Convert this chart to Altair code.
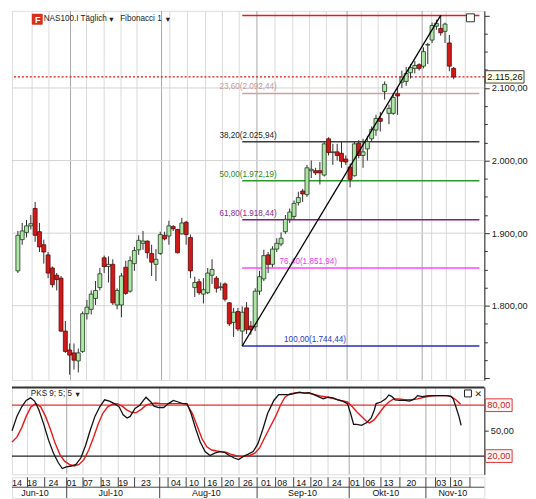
import altair as alt
import pandas as pd

FONT = "Liberation Sans"

# ---------------- daily candles (NAS100.I) ----------------
opens = [1848,1891,1901,1910,1934,1902,1884,1870,1852,1842,1838,1765,1739,1735,1724,1737,1789,1795,1810,1825,
         1866,1854,1857,1801,1801,1853,1820,1858,1877,1886,1889,1872,1857,1872,1897,1896,1909,1905,1899,1915,
         1894,1825,1833,1816,1818,1842,1838,1825,1830,1804,1777,1792,1765,1797,1772,1771,1820,1837,1870,1857,
         1878,1885,1902,1919,1923,1942,1958,1953,1986,1986,1986,1980,2030,2011,2012,2010,2002,1991,1979,2024,
         2007,2016,2030,2042,2058,2095,2065,2065,2092,2108,2109,2121,2127,2132,2130,2159,2166,2185,2182,2178,
         2162,2127]
highs = [1903,1914,1918,1925,1943,1914,1891,1874,1854,1845,1841,1779,1748,1748,1741,1792,1808,1821,1834,1852,
         1869,1868,1864,1824,1845,1862,1868,1881,1897,1903,1890,1884,1878,1902,1902,1917,1911,1906,1921,1917,
         1898,1840,1837,1838,1852,1864,1841,1832,1832,1805,1797,1797,1799,1805,1779,1824,1848,1877,1874,1882,
         1893,1901,1925,1934,1945,1957,1961,1994,2000,1990,1998,2026,2032,2023,2023,2026,2007,1996,2026,2028,
         2030,2034,2047,2063,2067,2109,2077,2093,2100,2124,2129,2133,2137,2134,2156,2162,2190,2194,2199.94,2190,
         2173,2129]
lows = [1845,1884,1894,1905,1888,1874,1858,1838,1825,1821,1764,1735,1705,1712,1708,1735,1781,1788,1801,1821,
        1845,1832,1801,1795,1784,1815,1818,1848,1870,1877,1865,1841,1834,1870,1890,1884,1903,1872,1898,1884,
        1838,1812,1815,1803,1816,1830,1818,1821,1806,1772,1757,1765,1744.44,1761,1760,1765,1815,1834,1845,1853,
        1874,1882,1899,1914,1919,1938,1943,1950,1976,1980,1967,1978,2007,1994,2000,1990,1994,1963,1978,2003,
        1990,2000,2026,2034,2040,2084,2050,2063,2063,2100,2103,2113,2120,2124,2127,2133,2162,2180,2172,2162,
        2123,2112]
closes = [1897,1903,1910,1913,1897,1881,1874,1845,1829,1836,1765,1737,1732,1725,1735,1789,1798,1816,1821,1844,
          1854,1857,1804,1821,1841,1817,1862,1876,1890,1889,1873,1860,1864,1898,1892,1910,1906,1873,1914,1898,
          1848,1832,1818,1822,1845,1850,1824,1826,1809,1775,1791,1768,1791,1767,1767,1820,1840,1869,1857,1878,
          1886,1893,1919,1929,1941,1949,1954,1990,1988,1983,1983,2023,2011,2012,2007,1999,1998,1974,2023,2007,
          2012,2026,2043,2058,2054,2105,2072,2087,2089,2115,2120,2128,2131,2127,2150,2160,2186,2189,2176,2188,
          2130,2115.26]

# ---------------- slow stochastic PKS 9;5;5 ----------------
k_pos = [-0.2,0.9,2.0,3.0,4.0,4.9,5.9,7.0,8.1,9.2,10.3,11.2,12.1,13.2,14.3,15.4,16.5,17.5,18.6,19.7,
         20.8,21.9,23.0,24.1,25.0,25.9,26.6,27.7,28.8,29.6,30.2,31.3,32.0,33.1,34.2,35.3,36.4,37.5,38.5,39.5,
         40.4,41.5,42.5,43.6,44.7,45.8,46.9,48.0,49.1,50.2,51.2,52.3,53.4,54.5,55.6,56.7,57.8,58.5,59.2,60.3,
         61.7,62.8,63.9,65.0,66.1,67.2,68.3,69.3,70.4,71.5,72.6,73.7,74.8,75.9,76.6,77.3,78.0,79.1,80.2,81.3,
         82.0,82.4,83.5,84.6,85.3,86.0,86.7,87.8,88.9,90.0,91.1,91.8,92.9,94.0,95.1,96.2,97.2,98.3,99.4,99.9,
         100.5,101.2,101.7]
k_val = [49.8,66.8,78.1,85.6,88.7,84.9,74.3,57.4,38.5,23.4,12.1,5.3,7.2,8.3,10.2,17.7,32.8,49.8,66.8,78.1,
         86.4,84.9,81.9,78.1,68.7,64.9,66.8,76.2,80.0,85.6,89.4,83.8,78.9,77.3,77.3,81.9,85.6,83.8,81.9,81.9,
         70.5,51.7,36.6,25.3,20.7,23.4,25.3,24.5,20.7,17.7,15.8,19.6,22.3,25.3,34.7,51.7,70.5,78.0,85.6,92.4,
         92.4,92.4,94.0,95.5,94.3,94.7,92.4,90.2,87.5,89.4,88.7,86.4,84.9,81.9,70.5,57.3,57.3,56.2,59.2,64.9,
         74.3,81.9,83.8,87.5,92.1,90.2,86.4,85.6,85.6,84.9,87.5,91.3,90.2,90.9,91.3,91.3,91.3,91.3,90.5,87.5,
         78.1,66.8,56.2]
d_pos = [-0.2,0.9,2.0,3.0,4.1,5.2,6.3,7.4,8.5,9.6,10.7,11.7,12.8,13.9,15.0,16.1,17.2,18.3,19.3,20.4,
         21.5,22.6,23.7,24.8,25.9,27.0,28.0,29.1,30.2,31.3,32.4,33.5,34.6,35.7,36.7,37.8,38.9,39.6,40.7,41.8,
         42.9,44.0,45.1,46.2,47.2,48.3,49.4,50.5,51.6,52.7,53.8,54.9,55.9,57.0,58.1,59.6,60.7,61.7,62.8,64.3,
         65.7,67.2,68.6,70.1,71.5,73.0,74.4,75.9,77.0,78.0,79.1,80.2,80.9,82.0,83.1,84.2,85.3,86.4,87.5,88.9,
         90.4,91.8,93.3,94.7,96.2,97.6,98.7,99.4,100.5,101.6]
d_val = [36.6,42.3,53.6,66.8,78.1,81.9,78.1,66.8,51.7,34.7,21.5,14.0,10.2,8.3,10.2,15.8,27.2,42.3,57.3,70.5,
         78.1,81.1,81.9,78.9,74.3,71.3,71.3,75.1,80.0,81.9,82.6,81.9,81.9,81.9,81.9,81.9,81.9,80.0,70.5,55.5,
         40.4,30.9,27.2,26.0,25.3,24.5,22.3,20.7,19.6,19.6,20.7,23.4,29.0,40.4,51.7,66.8,80.0,89.4,93.2,94.7,
         94.7,94.0,92.4,90.5,89.4,87.5,85.6,83.8,78.1,72.4,66.8,61.1,59.2,63.0,70.5,78.1,83.8,87.5,87.5,86.4,
         86.4,87.5,89.4,90.9,91.3,91.3,91.3,90.2,86.4,81.1]

# ---------------- Fibonacci retracement ----------------
fib_pct = [0.0, 23.6, 38.2, 50.0, 61.8, 76.4, 100.0]
fib_price = [2199.94, 2092.44, 2025.94, 1972.19, 1918.44, 1851.94, 1744.44]
fib_line_color = ["#e31c1c", "#c9a2a2", "#3c3c3c", "#2b9a2b", "#7e1f7e", "#ff47ff", "#2a2ac6"]
fib_text_color = ["#e31c1c", "#c49a9a", "#1e1e1e", "#2b8a2b", "#8a2a8a", "#ee3cee", "#2a3ac0"]
fib_label_pos = [None, 60.0, 60.0, 60.0, 60.0, 60.65, 61.7]
fib_label_align = [None, "right", "right", "right", "right", "left", "left"]
swing_low_i, swing_high_i = 52, 98
last_price = 2115.26

# ---------------- date axis ----------------
day_sep_pos = [3.3, 7.2, 12.2, 15.9, 20.0, 23.9, 27.6, 33.3, 35.2, 39.3, 43.5, 47.4, 51.3, 55.4,
               59.6, 63.7, 67.6, 71.5, 76.3, 79.6, 83.5, 87.8, 93.7, 95.9, 99.3, 103.7]
month_sep_pos = [12.2, 33.3, 55.4, 76.3, 93.7]
day_lbl = ["14", "18", "24", "01", "07", "13", "19", "23", "04", "10", "16", "20", "26",
           "01", "08", "14", "20", "24", "01", "06", "13", "20", "03", "10"]
day_lbl_pos = [0.9, 4.3, 9.2, 13.3, 17.0, 21.0, 25.0, 30.2, 37.0, 41.1, 45.2, 49.1, 53.3,
               57.4, 61.1, 65.4, 69.1, 73.5, 77.6, 81.1, 85.2, 90.4, 97.2, 100.9]
month_lbl = ["Jun-10", "Jul-10", "Aug-10", "Sep-10", "Okt-10", "Nov-10"]
month_lbl_pos = [5.0, 22.2, 43.9, 65.7, 84.6, 99.8]


def de(v):
    s = f"{v:,.2f}"
    return s.replace(",", "#").replace(".", ",").replace("#", ".")


W, PH, IH, DH = 476, 372, 88, 21
XMIN, XMAX = -0.22, 106.96
xs = alt.Scale(domain=[XMIN, XMAX], nice=False, zero=False)
ys = alt.Scale(domain=[1697.6, 2206.2], nice=False, zero=False)
DEX = "replace(replace(replace(format(datum.value, ',.2f'), ',', '#'), '.', ','), '#', '.')"
AXF = 9.3
HF = 8.2

yax = alt.Axis(orient="right", values=list(range(1700, 2201, 25)),
               labelExpr=f"(datum.value % 100 === 0 && datum.value >= 1800 && datum.value <= 2100) ? {DEX} : ''",
               tickSize={"condition": {"test": "datum.value % 100 === 0", "value": 5}, "value": 3},
               tickColor="#333", domainColor="#222", labelColor="#222", labelFont=FONT,
               labelFontSize=AXF, labelPadding=2, labelOverlap=False, grid=False, title=None)


def X(f):
    return alt.X(f, scale=xs, axis=None, title=None)


def Y(f):
    return alt.Y(f, scale=ys, axis=yax, title=None)


N = len(opens)
cd = pd.DataFrame({"i": list(range(N)), "o": opens, "h": highs, "l": lows, "c": closes})
cd["b0"] = cd[["o", "c"]].min(axis=1)
cd["b1"] = cd[["o", "c"]].max(axis=1)
up = cd[cd.c >= cd.o]
dn = cd[cd.c < cd.o]

sep_day = pd.DataFrame({"pos": [p for p in day_sep_pos if p not in month_sep_pos]})
sep_month = pd.DataFrame({"pos": month_sep_pos})

fib = pd.DataFrame({
    "x0": [swing_low_i] * len(fib_pct), "x1": [XMAX] * len(fib_pct),
    "price": fib_price, "col": fib_line_color, "tcol": fib_text_color,
    "lx": fib_label_pos, "align": fib_label_align,
    "label": [f"{p:.2f}".replace(".", ",") + "(" + de(v) + ")" for p, v in zip(fib_pct, fib_price)],
})
fib_lab = fib[fib["lx"].notna()]

vgrid_d = alt.Chart(sep_day).mark_rule(color="#dadada", strokeWidth=1).encode(x=X("pos:Q"))
vgrid_m = alt.Chart(sep_month).mark_rule(color="#a8a8a8", strokeWidth=1).encode(x=X("pos:Q"))
hgrid = alt.Chart(pd.DataFrame({"p": [1800, 1900, 2000, 2100]})).mark_rule(
    color="#d4d4d4", strokeWidth=1).encode(y=Y("p:Q"))

fib_rules = alt.Chart(fib).mark_rule(strokeWidth=1.5).encode(
    x=X("x0:Q"), x2="x1:Q", y=Y("price:Q"), color=alt.Color("col:N", scale=None))
fib_r = alt.Chart(fib_lab[fib_lab["align"] == "right"]).mark_text(
    align="right", baseline="bottom", dy=-2, font=FONT, fontSize=8.2).encode(
    x=X("lx:Q"), y=Y("price:Q"), text="label:N", color=alt.Color("tcol:N", scale=None))
fib_l = alt.Chart(fib_lab[fib_lab["align"] == "left"]).mark_text(
    align="left", baseline="bottom", dy=-2, font=FONT, fontSize=8.2).encode(
    x=X("lx:Q"), y=Y("price:Q"), text="label:N", color=alt.Color("tcol:N", scale=None))

diag = alt.Chart(pd.DataFrame({"i": [swing_low_i, swing_high_i],
                               "p": [fib_price[-1], fib_price[0]]})).mark_line(
    color="#000000", strokeWidth=1.3).encode(x=X("i:Q"), y=Y("p:Q"))

lastdf = pd.DataFrame({"p": [last_price], "lab": [de(last_price)]})
last_rule = alt.Chart(lastdf).mark_rule(color="#e01010", strokeDash=[2, 2], strokeWidth=1.3).encode(y=Y("p:Q"))

wicks = alt.Chart(cd).mark_rule(color="#2e2e2e", strokeWidth=1).encode(x=X("i:Q"), y=Y("l:Q"), y2="h:Q")
b_up = alt.Chart(up).mark_bar(size=4, fill="#aee6a6", stroke="#203a20", strokeWidth=0.8).encode(
    x=X("i:Q"), y=Y("b0:Q"), y2="b1:Q")
b_dn = alt.Chart(dn).mark_bar(size=4, fill="#d01a1a", stroke="#5c0a0a", strokeWidth=0.8).encode(
    x=X("i:Q"), y=Y("b0:Q"), y2="b1:Q")

last_box = alt.Chart(lastdf).transform_calculate(a="datum.p + 8.5", b="datum.p - 8.5").mark_rect(
    fill="#ffffea", stroke="#444", strokeWidth=1).encode(
    x=alt.value(W + 1), x2=alt.value(W + 40), y=Y("a:Q"), y2="b:Q")
last_txt = alt.Chart(lastdf).mark_text(align="left", baseline="middle", font=FONT, fontSize=AXF,
                                       color="#111").encode(x=alt.value(W + 3), y=Y("p:Q"), text="lab:N")

hdr = pd.DataFrame({"t": [0]})
icon = alt.Chart(hdr).mark_rect(fill="#d5301f", cornerRadius=1).encode(
    x=alt.value(20), x2=alt.value(31), y=alt.value(3), y2=alt.value(14))
icon_t = alt.Chart(hdr).mark_text(text="F", color="white", font=FONT, fontSize=9, fontWeight="bold").encode(
    x=alt.value(26), y=alt.value(9))
t1 = alt.Chart(hdr).mark_text(text="NAS100.I Täglich", align="left", baseline="middle", font=FONT,
                              fontSize=HF, color="#222").encode(x=alt.value(32), y=alt.value(8.5))
t1a = alt.Chart(hdr).mark_text(text="▾", align="left", baseline="middle", font="DejaVu Sans",
                               fontSize=8.5, color="#222").encode(x=alt.value(98), y=alt.value(8.5))
t2 = alt.Chart(hdr).mark_text(text="Fibonacci 1", align="left", baseline="middle", font=FONT,
                              fontSize=HF, color="#222").encode(x=alt.value(109), y=alt.value(8.5))
t2a = alt.Chart(hdr).mark_text(text="▾", align="left", baseline="middle", font="DejaVu Sans",
                               fontSize=8.5, color="#222").encode(x=alt.value(155), y=alt.value(8.5))
sq = alt.Chart(hdr).mark_rect(fill="white", stroke="#333", strokeWidth=1).encode(
    x=alt.value(458), x2=alt.value(466), y=alt.value(3), y2=alt.value(11))

price = alt.layer(vgrid_d, vgrid_m, hgrid, fib_rules, fib_r, fib_l, last_rule, wicks, b_up, b_dn, diag,
                  last_box, last_txt, icon, icon_t, t1, t1a, t2, t2a, sq).properties(width=W, height=PH)

# ---------------- indicator panel ----------------
iys = alt.Scale(domain=[-1.5, 101.5], nice=False, zero=False)
iax = alt.Axis(orient="right", values=[20, 50, 80], labelExpr=f"datum.value === 50 ? {DEX} : ''",
               tickSize=4, tickColor="#333", domainColor="#222", labelColor="#222", labelFont=FONT,
               labelFontSize=AXF, labelPadding=2, grid=False, title=None)


def IY(f):
    return alt.Y(f, scale=iys, axis=iax, title=None)


lv = pd.DataFrame({"v": [80.0, 20.0], "lab": [de(80.0), de(20.0)]})
kdf = pd.DataFrame({"i": k_pos, "v": k_val})
ddf = pd.DataFrame({"i": d_pos, "v": d_val})

topline = alt.Chart(hdr).mark_rule(color="#333", strokeWidth=2).encode(
    x=alt.value(0), x2=alt.value(W), y=alt.value(0.5))
r80 = alt.Chart(lv[lv.v == 80]).mark_rule(color="#e53030", strokeWidth=1.2).encode(y=IY("v:Q"))
r20 = alt.Chart(lv[lv.v == 20]).mark_rule(color="#222", strokeWidth=1.1).encode(y=IY("v:Q"))
kline = alt.Chart(kdf).mark_line(color="#111", strokeWidth=1.3).encode(x=X("i:Q"), y=IY("v:Q"))
dline = alt.Chart(ddf).mark_line(color="#e51a1a", strokeWidth=1.4).encode(x=X("i:Q"), y=IY("v:Q"))
lvbox = alt.Chart(lv).transform_calculate(a="datum.v + 7.5", b="datum.v - 7.5").mark_rect(
    fill="#fff4f4", stroke="#e03535", strokeWidth=1).encode(
    x=alt.value(W + 1), x2=alt.value(W + 28), y=IY("a:Q"), y2="b:Q")
lvtxt = alt.Chart(lv).mark_text(align="left", baseline="middle", font=FONT, fontSize=AXF,
                                color="#c02424").encode(x=alt.value(W + 3), y=IY("v:Q"), text="lab:N")
pks = alt.Chart(hdr).mark_text(text="PKS 9; 5; 5", align="left", baseline="middle", font=FONT,
                               fontSize=HF, color="#222").encode(x=alt.value(19), y=alt.value(7))
pksa = alt.Chart(hdr).mark_text(text="▾", align="left", baseline="middle", font="DejaVu Sans",
                                fontSize=8.5, color="#222").encode(x=alt.value(64), y=alt.value(7))
isq = alt.Chart(hdr).mark_rect(fill="white", stroke="#222", strokeWidth=1).encode(
    x=alt.value(456), x2=alt.value(463), y=alt.value(3), y2=alt.value(10))
ix = alt.Chart(hdr).mark_text(text="✕", align="left", baseline="middle", font="DejaVu Sans",
                              fontSize=9, fontWeight="bold", color="#111").encode(x=alt.value(466), y=alt.value(7))

ind = alt.layer(vgrid_d, vgrid_m, topline, r80, r20, dline, kline, lvbox, lvtxt, pks, pksa, isq, ix).properties(
    width=W, height=IH)

# ---------------- date rows ----------------
dsep = alt.Chart(sep_day).mark_rule(color="#444", strokeWidth=1).encode(
    x=X("pos:Q"), y=alt.value(0), y2=alt.value(10))
msep = alt.Chart(sep_month).mark_rule(color="#444", strokeWidth=1).encode(
    x=X("pos:Q"), y=alt.value(0), y2=alt.value(DH))
mid = alt.Chart(hdr).mark_rule(color="#444", strokeWidth=1).encode(
    x=alt.value(0), x2=alt.value(W), y=alt.value(10))
dtxt = alt.Chart(pd.DataFrame({"pos": day_lbl_pos, "t": day_lbl})).mark_text(
    baseline="middle", font=FONT, fontSize=9, color="#111").encode(x=X("pos:Q"), y=alt.value(5.5), text="t:N")
mtxt = alt.Chart(pd.DataFrame({"pos": month_lbl_pos, "t": month_lbl})).mark_text(
    baseline="middle", font=FONT, fontSize=9, color="#111").encode(x=X("pos:Q"), y=alt.value(16), text="t:N")
dates = alt.layer(dsep, msep, mid, dtxt, mtxt).properties(width=W, height=DH)

chart = alt.vconcat(price, ind, dates, spacing=1).properties(
    padding={"left": 0, "top": 0, "right": 0, "bottom": 0}
).configure_view(stroke="#444", strokeWidth=1).configure(font=FONT)

chart.save("out.html", embed_options={"renderer": "svg", "actions": False})
